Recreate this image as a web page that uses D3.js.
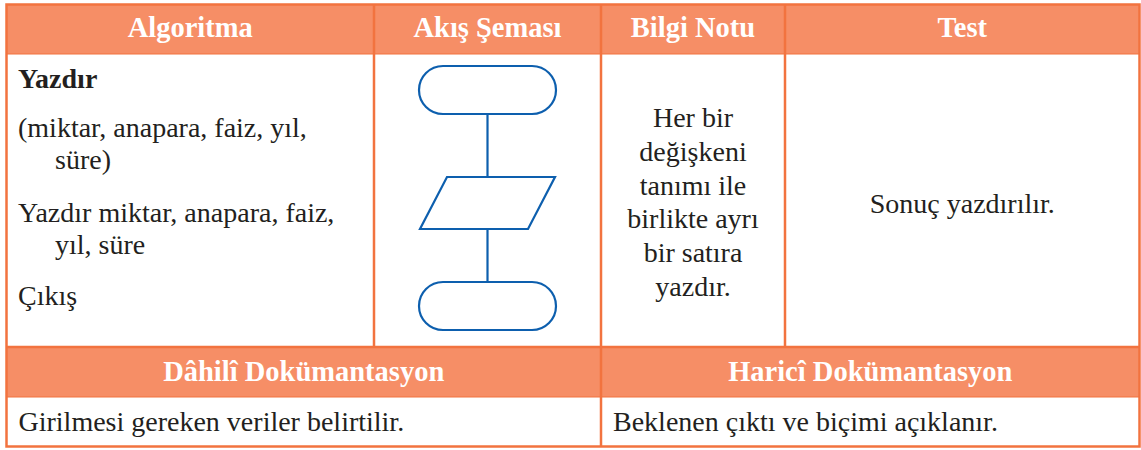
<!DOCTYPE html>
<html><head><meta charset="utf-8">
<script src="https://cdn.jsdelivr.net/npm/d3@7"></script>
<style>html,body{margin:0;padding:0;background:#fff;}</style>
</head><body>
<svg id="c" width="1141" height="450"></svg>
<script>
// ---- content ----
const topHeaders = ["Algoritma", "Akış Şeması", "Bilgi Notu", "Test"];
const bottomHeaders = ["Dâhilî Dokümantasyon", "Haricî Dokümantasyon"];
const algoLines = [
  {t: "Yazdır", bold: true, indent: false},
  {t: "(miktar, anapara, faiz, yıl,", bold: false, indent: false},
  {t: "süre)", bold: false, indent: true},
  {t: "Yazdır miktar, anapara, faiz,", bold: false, indent: false},
  {t: "yıl, süre", bold: false, indent: true},
  {t: "Çıkış", bold: false, indent: false}
];
const noteLines = ["Her bir", "değişkeni", "tanımı ile", "birlikte ayrı", "bir satıra", "yazdır."];
const testText = ["Sonuç yazdırılır."];
const bottomTexts = ["Girilmesi gereken veriler belirtilir.", "Beklenen çıktı ve biçimi açıklanır."];
const flowShapes = ["terminal", "io", "terminal"];

// ---- layout ----
const W = 1141, H = 450;
const L = 6.5, R = 1139.5, T = 4.5, B = 446.5;
const colX = [L, 374, 601, 785, R];
const botColX = [L, 601, R];
const rowY = [T, 54, 347, 397, B];
const headFill = "#F68E66", border = "#F2733F", textCol = "#231F20", flowCol = "#0D5FAE";
const FAM = '"Liberation Serif"';
const fs = 28, hfs = 28.5;

const svg = d3.select("#c");
svg.append("rect").attr("width", W).attr("height", H).attr("fill", "#fff");

svg.append("rect").attr("x", L).attr("y", rowY[0]).attr("width", R-L).attr("height", rowY[1]-rowY[0]).attr("fill", headFill);
svg.append("rect").attr("x", L).attr("y", rowY[2]).attr("width", R-L).attr("height", rowY[3]-rowY[2]).attr("fill", headFill);

svg.selectAll("text.th").data(topHeaders).join("text")
  .attr("x", (d,i) => (colX[i]+colX[i+1])/2).attr("y", 37)
  .attr("text-anchor", "middle").attr("fill", "#fff").style("font-family", FAM)
  .style("font-weight", "bold").style("font-size", hfs + "px").text(d => d);
svg.selectAll("text.bh").data(bottomHeaders).join("text")
  .attr("x", (d,i) => (botColX[i]+botColX[i+1])/2).attr("y", 381)
  .attr("text-anchor", "middle").attr("fill", "#fff").style("font-family", FAM)
  .style("font-weight", "bold").style("font-size", hfs + "px").text(d => d);

const algoY = [88, 137, 169, 222, 254, 305];
svg.selectAll("text.al").data(algoLines).join("text")
  .attr("x", d => d.indent ? 55 : 18).attr("y", (d,i) => algoY[i])
  .attr("fill", textCol).style("font-family", FAM).style("font-size", fs + "px")
  .style("font-weight", d => d.bold ? "bold" : "normal").text(d => d.t);

const noteY = d3.scaleLinear().domain([0, noteLines.length-1]).range([127, 296]);
svg.selectAll("text.nt").data(noteLines).join("text")
  .attr("x", (colX[2]+colX[3])/2).attr("y", (d,i) => noteY(i))
  .attr("text-anchor", "middle").attr("fill", textCol).style("font-family", FAM).style("font-size", fs + "px").text(d => d);

svg.selectAll("text.ts").data(testText).join("text")
  .attr("x", (colX[3]+colX[4])/2).attr("y", 213)
  .attr("text-anchor", "middle").attr("fill", textCol).style("font-family", FAM).style("font-size", fs + "px").text(d => d);

svg.selectAll("text.bt").data(bottomTexts).join("text")
  .attr("x", (d,i) => botColX[i] + 12).attr("y", 431)
  .attr("fill", textCol).style("font-family", FAM).style("font-size", fs + "px").text(d => d);

const fx = 487.5;
const shapeY = [[66, 114], [177, 229], [282, 330]];
const g = svg.append("g").attr("fill", "none").attr("stroke", flowCol).attr("stroke-width", 2.2);
g.append("line").attr("x1", fx).attr("x2", fx).attr("y1", shapeY[0][1]).attr("y2", shapeY[1][0]);
g.append("line").attr("x1", fx).attr("x2", fx).attr("y1", shapeY[1][1]).attr("y2", shapeY[2][0]);
flowShapes.forEach((s, i) => {
  const [y0, y1] = shapeY[i];
  if (s === "terminal") {
    g.append("rect").attr("x", 419).attr("y", y0).attr("width", 137).attr("height", y1-y0)
      .attr("rx", (y1-y0)/2).attr("ry", (y1-y0)/2).attr("fill", "#fff");
  } else {
    g.append("path").attr("d", `M447,${y0} L555,${y0} L528,${y1} L420,${y1} Z`).attr("fill", "#fff");
  }
});

const lines = svg.append("g").attr("stroke", border).attr("stroke-width", 2.5).attr("fill", "none");
lines.append("rect").attr("x", L).attr("y", T).attr("width", R-L).attr("height", B-T);
[rowY[1], rowY[2], rowY[3]].forEach(y => lines.append("line").attr("x1", L).attr("x2", R).attr("y1", y).attr("y2", y).attr("stroke-width", y===rowY[2] ? 2.5 : 1));
colX.slice(1, -1).forEach(x => lines.append("line").attr("x1", x).attr("x2", x).attr("y1", T).attr("y2", rowY[2]));
lines.append("line").attr("x1", botColX[1]).attr("x2", botColX[1]).attr("y1", rowY[2]).attr("y2", B);
</script>
</body></html>
